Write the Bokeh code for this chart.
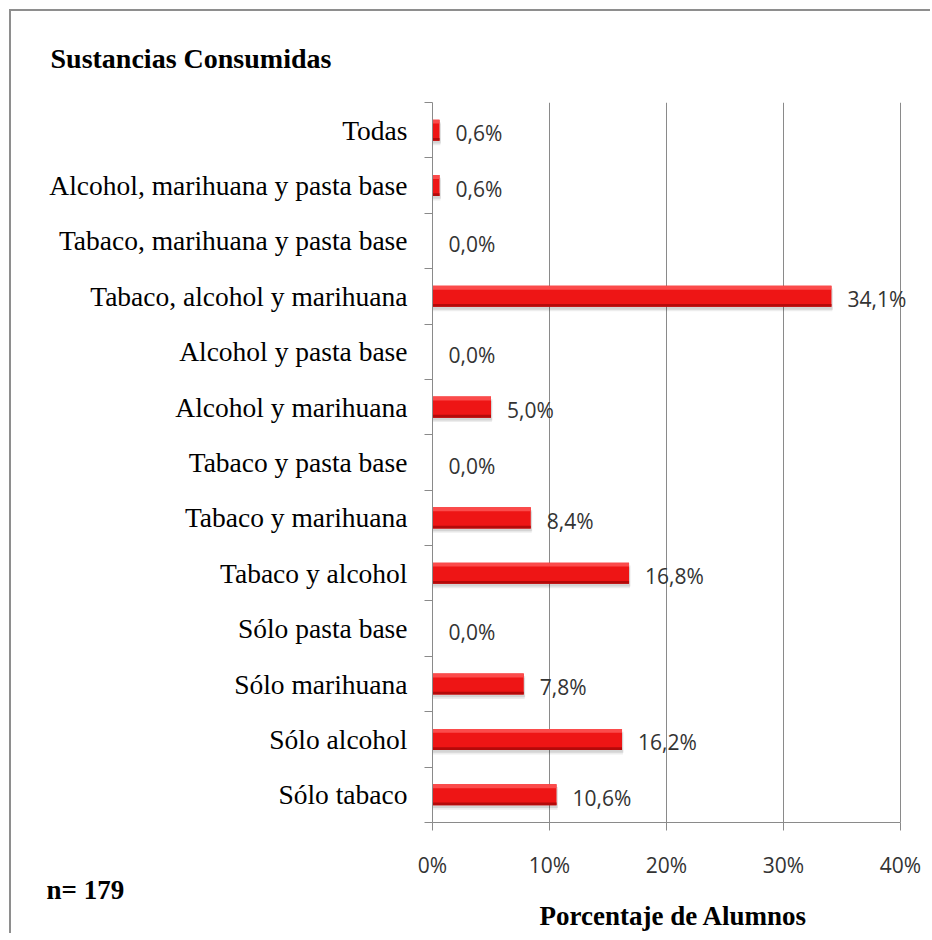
from bokeh.plotting import figure
from bokeh.models import FixedTicker, Title, ColumnDataSource, Range1d
from bokeh.core.properties import value
from bokeh.embed import file_html
from bokeh.resources import INLINE

# Data (bottom to top)
categories = [
    "Sólo tabaco", "Sólo alcohol", "Sólo marihuana", "Sólo pasta base",
    "Tabaco y alcohol", "Tabaco y marihuana", "Tabaco y pasta base",
    "Alcohol y marihuana", "Alcohol y pasta base", "Tabaco, alcohol y marihuana",
    "Tabaco, marihuana y pasta base", "Alcohol, marihuana y pasta base", "Todas",
]
percentages = [10.6, 16.2, 7.8, 0.0, 16.8, 8.4, 0.0, 5.0, 0.0, 34.1, 0.0, 0.6, 0.6]
x_ticks = [0, 10, 20, 30, 40]
x_tick_labels = ["0%", "10%", "20%", "30%", "40%"]
title_text = "Sustancias Consumidas"
x_title = "Porcentaje de Alumnos"
n_text = "n= 179"

n = len(categories)
centers = [2 * i + 1 for i in range(n)]
bounds = [2 * i for i in range(n + 1)]
labels = [f"{v:.1f}".replace(".", ",") + "%" for v in percentages]

src = ColumnDataSource(dict(y=centers, v=percentages, lab=labels))

W, H = 921, 924
p = figure(width=W, height=H, output_backend="svg", toolbar_location=None,
           x_range=Range1d(0, 41.2), y_range=Range1d(0, 2 * n),
           min_border_left=421, min_border_right=18, min_border_top=91,
           min_border_bottom=113)
p.styles = {"margin-left": "9px", "margin-top": "9px",
            "border-left": "2px solid #8e8e8e", "border-top": "2px solid #8e8e8e"}
p.outline_line_color = None
p.background_fill_color = "white"
p.border_fill_color = "white"

BH = 0.76
# shadow
p.hbar(y=[c - 0.10 for c in centers], left=0, right=[v + 0.12 if v > 0 else 0 for v in percentages],
       height=BH, fill_color="#000000", fill_alpha=0.10, line_color=None)
p.hbar(y=[c - 0.16 for c in centers], left=0, right=[v + 0.08 if v > 0 else 0 for v in percentages],
       height=BH, fill_color="#000000", fill_alpha=0.07, line_color=None)
# main bar
p.hbar(y="y", left=0, right="v", height=BH, source=src, fill_color="#ee1515", line_color=None)
# top highlight
p.hbar(y=[c + BH / 2 - 0.07 for c in centers], left=0, right=percentages, height=0.14,
       fill_color="#fb4b4b", line_color=None)
# bottom dark edge
p.hbar(y=[c - BH / 2 + 0.05 for c in centers], left=0, right=percentages, height=0.10,
       fill_color="#b40a0a", line_color=None)

p.text(x="v", y="y", text="lab", source=src, x_offset=16, y_offset=3, text_baseline="middle",
       text_align="left", text_font=value("Open Sans"), text_font_size="21px",
       text_color="#333333")

# axes
p.xaxis.ticker = FixedTicker(ticks=x_ticks)
p.xaxis.bounds = (x_ticks[0], x_ticks[-1])
p.xaxis.major_label_overrides = {t: l for t, l in zip(x_ticks, x_tick_labels)}
p.xaxis.major_label_text_font = "Open Sans"
p.xaxis.major_label_text_font_size = "21px"
p.xaxis.major_label_text_color = "#333333"
p.xaxis.major_label_standoff = 20
p.xaxis.axis_line_color = "#8a8a8a"
p.xaxis.major_tick_line_color = "#8a8a8a"
p.xaxis.major_tick_in = 0
p.xaxis.major_tick_out = 8
p.xaxis.minor_tick_line_color = None

p.yaxis.ticker = FixedTicker(ticks=centers, minor_ticks=bounds)
p.yaxis.major_label_overrides = {c: l for c, l in zip(centers, categories)}
p.yaxis.major_label_text_font = "Liberation Serif"
p.yaxis.major_label_text_font_size = "27.5px"
p.yaxis.major_label_text_color = "#000000"
p.yaxis.major_label_standoff = 17
p.yaxis.axis_line_color = "#8a8a8a"
p.yaxis.major_tick_line_color = None
p.yaxis.minor_tick_line_color = "#8a8a8a"
p.yaxis.minor_tick_in = 0
p.yaxis.minor_tick_out = 8

p.xgrid.ticker = FixedTicker(ticks=x_ticks[1:])
p.xgrid.grid_line_color = "#8a8a8a"
p.ygrid.grid_line_color = None

# texts
p.title.text = title_text
p.title.align = "left"
p.title.offset = -382
p.title.standoff = 58
p.title.text_font = "Liberation Serif"
p.title.text_font_style = "bold"
p.title.text_font_size = "28px"
p.title.text_color = "#000000"

n_title = Title(text=n_text, align="left", offset=-386, standoff=-18,
                text_font="Liberation Serif", text_font_style="bold",
                text_font_size="27px", text_color="#000000")
p.add_layout(n_title, "below")
x_title_obj = Title(text=x_title, align="center", standoff=6,
                    text_font="Liberation Serif", text_font_style="bold",
                    text_font_size="27px", text_color="#000000")
p.add_layout(x_title_obj, "below")

open("out.html", "w").write(file_html(p, INLINE))
